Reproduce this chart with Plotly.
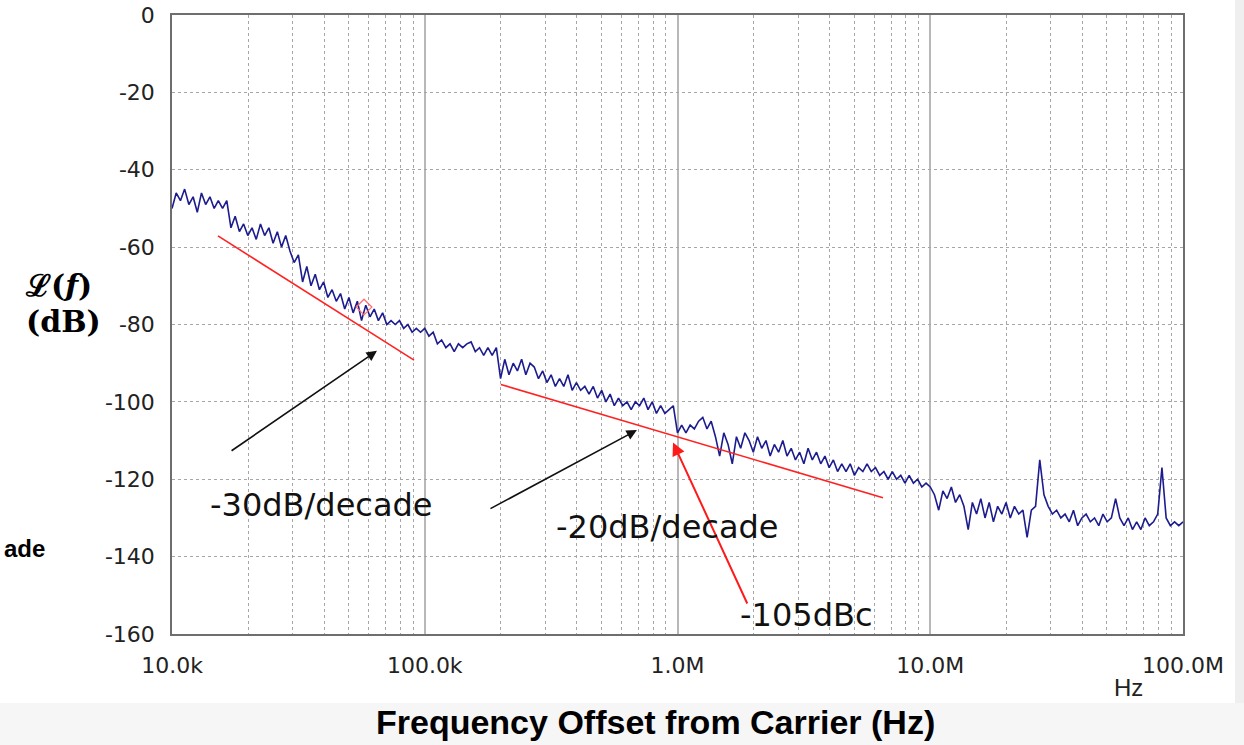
import math
import plotly.graph_objects as go

# ---------------- data ----------------
# Sweep points: 60 log-spaced mantissas per decade
MANTISSA = [1.000, 1.039, 1.080, 1.122, 1.166, 1.212, 1.259, 1.308, 1.359, 1.413,
            1.468, 1.525, 1.585, 1.647, 1.711, 1.778, 1.848, 1.920, 1.995, 2.073,
            2.154, 2.239, 2.326, 2.417, 2.512, 2.610, 2.712, 2.818, 2.929, 3.043,
            3.162, 3.286, 3.415, 3.548, 3.687, 3.831, 3.981, 4.137, 4.299, 4.467,
            4.642, 4.823, 5.012, 5.208, 5.412, 5.623, 5.843, 6.072, 6.310, 6.556,
            6.813, 7.079, 7.356, 7.644, 7.943, 8.254, 8.577, 8.913, 9.261, 9.624]
DECADES = [1e4, 1e5, 1e6, 1e7]
LAST_FREQ = 1e8

PHASE_NOISE_DB = [
    # 10k - 100k
    -50, -46, -48, -45, -49, -47, -51, -46, -49, -47,
    -50, -48, -50, -48, -55, -52, -56, -54, -57, -55,
    -58, -54, -57, -55, -59, -56, -60, -57, -61, -64,
    -62, -69, -65, -70, -67, -71, -69, -73, -71, -74,
    -72, -76, -73, -77, -74, -79, -75, -78, -76, -79,
    -77, -80, -79, -80, -79, -81, -80, -82, -81, -82,
    # 100k - 1M
    -81, -83, -82, -85, -84, -86, -85, -87, -85, -86,
    -85, -84.5, -87, -86, -88, -86, -88, -86, -94, -89,
    -93, -90, -92, -89, -93, -90, -91, -94, -92, -95,
    -93, -96, -94, -96, -93, -97, -95, -97, -96, -98,
    -96, -99, -97, -100, -98, -101, -99, -101, -100, -102,
    -100, -101, -99, -102, -100, -103, -101, -103, -102, -101,
    # 1M - 10M
    -108, -106, -108, -106, -107, -105, -104, -107, -105, -109,
    -114, -108, -111, -116, -109, -112, -108, -110, -113, -109,
    -112, -110, -114, -111, -113, -110, -114, -112, -115, -113,
    -116, -112, -115, -113, -116, -114, -117, -115, -118, -116,
    -118, -116, -119, -117, -118, -116, -118, -117, -119, -118,
    -120, -118, -120, -119, -121, -119, -121, -120, -122, -121,
    # 10M - 100M
    -122, -124, -128, -123, -125, -122, -126, -124, -127, -133,
    -126, -129, -125, -130, -126, -131, -127, -129, -126, -130,
    -127, -129, -128, -135, -128, -127, -115, -124, -127, -129,
    -128, -130, -129, -131, -128, -132, -130, -129, -131, -130,
    -132, -129, -131, -130, -125, -130, -132, -130, -133, -131,
    -133, -130, -132, -131, -129, -117, -130, -132, -131, -132,
    -131,
]

# red slope lines
TREND1_F = [15.2e3, 90.7e3]
TREND1_DB = [-57.1, -89.2]
TREND2_F = [200e3, 6.5e6]
TREND2_DB = [-95.5, -124.8]

# red diamond marker
MARKER_F = [57.5e3]
MARKER_DB = [-75.5]

# arrows: (freq, dB) of head and tail
ARROW_30_HEAD = (64.7e3, -86.8)
ARROW_30_TAIL = (16.97e3, -112.9)
ARROW_20_HEAD = (691e3, -107.3)
ARROW_20_TAIL = (179.5e3, -127.8)
ARROW_105_HEAD = (960e3, -110.5)
ARROW_105_TAIL = (1.90e6, -152.5)

# labels
LABEL_30 = ("-30dB/decade", 39.2e3, -126.6)
LABEL_20 = ("-20dB/decade", 909e3, -132.3)
LABEL_105 = ("-105dBc", 3.22e6, -155.1)

X_TICKS = [1e4, 1e5, 1e6, 1e7, 1e8]
X_TICKTEXT = ["10.0k", "100.0k", "1.0M", "10.0M", "100.0M"]
X_MINOR = [m * d for d in DECADES for m in [2, 3, 4, 5, 6, 7, 8, 9]]
Y_TICKS = [0, -20, -40, -60, -80, -100, -120, -140, -160]
Y_TICKTEXT = ["0", "-20", "-40", "-60", "-80", "-100", "-120", "-140", "-160"]

freq_hz = [m * d for d in DECADES for m in MANTISSA] + [LAST_FREQ]

# ---------------- figure ----------------
W, H = 1244, 745
L, R, T, B = 172, 61, 15, 111
PW, PH = W - L - R, H - T - B


def px_x(px):
    return (px - L) / PW


def px_y(py):
    return (H - B - py) / PH


ARIAL = "Arial, Liberation Sans, sans-serif"
TICKFONT = "DejaVu Sans, Verdana, sans-serif"
SERIF = "DejaVu Serif, serif"

fig = go.Figure()

fig.add_trace(go.Scatter(x=freq_hz, y=PHASE_NOISE_DB, mode="lines",
                         line=dict(color="#1c1c8f", width=1.6), showlegend=False))
fig.add_trace(go.Scatter(x=TREND1_F, y=TREND1_DB, mode="lines",
                         line=dict(color="#ff2222", width=1.6), showlegend=False))
fig.add_trace(go.Scatter(x=TREND2_F, y=TREND2_DB, mode="lines",
                         line=dict(color="#ff2222", width=1.6), showlegend=False))
fig.add_trace(go.Scatter(x=MARKER_F, y=MARKER_DB, mode="markers",
                         marker=dict(symbol="diamond-open", size=12, color="#ff7070",
                                     line=dict(width=1.3)), showlegend=False))

annotations = []
for head, tail, color, width in [(ARROW_30_HEAD, ARROW_30_TAIL, "#111111", 1.6),
                                 (ARROW_20_HEAD, ARROW_20_TAIL, "#111111", 1.6),
                                 (ARROW_105_HEAD, ARROW_105_TAIL, "#ff1a1a", 2.0)]:
    annotations.append(dict(x=math.log10(head[0]), y=head[1], xref="x", yref="y",
                            ax=math.log10(tail[0]), ay=tail[1], axref="x", ayref="y",
                            text="", showarrow=True, arrowhead=2, arrowsize=1.3,
                            arrowwidth=width, arrowcolor=color))

for txt, f, db in [LABEL_30, LABEL_20, LABEL_105]:
    annotations.append(dict(x=math.log10(f), y=db, xref="x", yref="y", text=txt,
                            showarrow=False, xanchor="center", yanchor="middle",
                            font=dict(family=TICKFONT, size=32, color="#111111")))

annotations += [
    dict(x=px_x(58), y=px_y(285), xref="paper", yref="paper", showarrow=False,
         text="<b>ℒ(<i>f</i>)</b>", xanchor="center", yanchor="middle",
         font=dict(family=SERIF, size=30, color="#000")),
    dict(x=px_x(63), y=px_y(322), xref="paper", yref="paper", showarrow=False,
         text="<b>(dB)</b>", xanchor="center", yanchor="middle",
         font=dict(family=SERIF, size=30, color="#000")),
    dict(x=px_x(655), y=px_y(722), xref="paper", yref="paper", showarrow=False,
         text="<b>Frequency Offset from Carrier (Hz)</b>", xanchor="center", yanchor="middle",
         font=dict(family=ARIAL, size=34, color="#000")),
    dict(x=px_x(1128), y=px_y(688), xref="paper", yref="paper", showarrow=False,
         text="Hz", xanchor="center", yanchor="middle",
         font=dict(family=ARIAL, size=24, color="#222")),
    dict(x=px_x(47), y=px_y(548), xref="paper", yref="paper", showarrow=False,
         text="<b>ade</b>", xanchor="right", yanchor="middle",
         font=dict(family=ARIAL, size=24, color="#000")),
]

shapes = [
    dict(type="rect", xref="paper", yref="paper", x0=px_x(1235), x1=px_x(1250),
         y0=px_y(750), y1=px_y(-5), fillcolor="#efefef", line=dict(width=0), layer="below"),
    dict(type="rect", xref="paper", yref="paper", x0=px_x(-5), x1=px_x(1250),
         y0=px_y(750), y1=px_y(703), fillcolor="#f6f6f6", line=dict(width=0), layer="below"),
]

fig.update_layout(
    width=W, height=H,
    margin=dict(l=L, r=R, t=T, b=B, autoexpand=False),
    paper_bgcolor="white", plot_bgcolor="white",
    annotations=annotations, shapes=shapes,
    showlegend=False,
    xaxis=dict(type="log", range=[4, 8], tickmode="array", tickvals=X_TICKS,
               ticktext=X_TICKTEXT, ticks="", ticklabelstandoff=11, automargin=False,
               tickfont=dict(family=TICKFONT, size=22, color="#222"),
               showgrid=True, gridcolor="#b8b8b8", gridwidth=2,
               minor=dict(tickmode="array", tickvals=X_MINOR, showgrid=True,
                          gridcolor="#a6a6a6", gridwidth=1, griddash="3px,3px", ticks=""),
               showline=True, mirror=True, linecolor="#6e6e6e", linewidth=1.5,
               zeroline=False),
    yaxis=dict(range=[-160, 0], tickmode="array", tickvals=Y_TICKS, ticktext=Y_TICKTEXT,
               ticks="", ticklabelstandoff=11, automargin=False,
               tickfont=dict(family=TICKFONT, size=22, color="#222"),
               showgrid=True, gridcolor="#a6a6a6", gridwidth=1, griddash="3px,3px",
               showline=True, mirror=True, linecolor="#6e6e6e", linewidth=1.5,
               zeroline=False),
)

fig.write_html("out.html", config={"displayModeBar": False},
               post_script="document.body.style.margin='0';document.body.style.overflow='hidden';")
